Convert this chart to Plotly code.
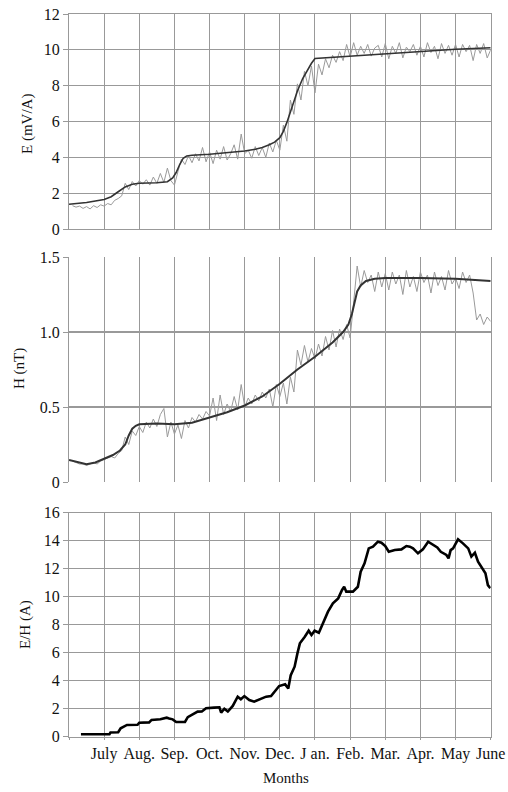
import plotly.graph_objects as go

# x positions: months since start (gridline k = k-th month boundary)
month_labels = ["", "July", "Aug.", "Sep.", "Oct.", "Nov.", "Dec.", "J an.",
                "Feb.", "Mar.", "Apr.", "May", "June"]
month_ticks = list(range(0, 13))

# sampled positions of the raw (noisy) series, every 0.1 month
raw_x = [round(0.1 * i, 1) for i in range(1, 121)]

# ---- E (mV/A) ----
E_raw = [
    1.30, 1.22, 1.28, 1.15, 1.25, 1.12, 1.30, 1.20, 1.35, 1.28,
    1.42, 1.35, 1.60, 1.70, 1.85, 2.55, 2.20, 2.65, 2.40, 2.70,
    2.50, 2.75, 2.45, 2.90, 2.55, 3.10, 2.60, 3.40, 2.70, 2.45,
    3.20, 3.90, 3.60, 4.10, 3.70, 4.20, 3.80, 4.55, 3.75, 4.30,
    3.65, 4.40, 3.90, 4.60, 3.85, 4.20, 4.70, 3.90, 5.30, 4.20,
    4.40, 3.95, 4.60, 4.10, 4.55, 4.00, 4.80, 4.30, 4.95, 4.40,
    5.80, 4.90, 7.20, 6.40, 8.10, 7.20, 8.80, 8.00, 9.10, 7.60,
    9.20, 8.60, 9.50, 9.00, 9.70, 9.30, 9.90, 9.40, 10.30, 9.60,
    10.40, 9.70, 10.20, 9.80, 10.30, 9.65, 10.10, 10.25, 9.60, 10.35,
    9.50, 10.20, 9.80, 10.40, 9.55, 10.15, 9.90, 10.30, 9.70, 10.20,
    9.60, 10.40, 9.85, 10.20, 9.50, 10.35, 9.80, 10.25, 9.70, 10.30,
    9.60, 10.30, 9.90, 10.25, 9.40, 10.30, 9.80, 10.35, 9.55, 10.00,
]
E_fit_x = [0, 0.5, 1.0, 1.2, 1.4, 1.6, 1.8, 2.0, 2.5, 2.8, 2.95, 3.05, 3.15, 3.25,
           3.35, 3.5, 4.0, 4.5, 5.0, 5.3, 5.5, 5.7, 5.85, 6.0, 6.1, 6.2, 6.35, 6.5,
           6.65, 6.8, 6.9, 7.0, 8, 9, 10, 11, 12]
E_fit = [1.38, 1.48, 1.65, 1.80, 2.08, 2.35, 2.50, 2.55, 2.58, 2.64, 2.85, 3.15,
         3.60, 3.95, 4.08, 4.12, 4.17, 4.25, 4.35, 4.45, 4.55, 4.70, 4.85, 5.10,
         5.45, 5.95, 6.85, 7.70, 8.40, 8.95, 9.25, 9.52, 9.65, 9.80, 9.93, 10.03, 10.12]

# ---- H (nT) ----
H_raw = [
    0.14, 0.13, 0.12, 0.12, 0.11, 0.12, 0.13, 0.12, 0.14, 0.15,
    0.16, 0.17, 0.16, 0.19, 0.21, 0.30, 0.25, 0.34, 0.31, 0.37,
    0.33, 0.40, 0.36, 0.42, 0.37, 0.45, 0.49, 0.30, 0.40, 0.32,
    0.38, 0.29, 0.41, 0.36, 0.43, 0.40, 0.45, 0.42, 0.47, 0.44,
    0.56, 0.41, 0.58, 0.45, 0.52, 0.47, 0.57, 0.48, 0.65, 0.50,
    0.56, 0.52, 0.58, 0.54, 0.60, 0.56, 0.62, 0.50, 0.65, 0.57,
    0.66, 0.52, 0.70, 0.60, 0.88, 0.78, 0.91, 0.80, 0.89, 0.82,
    0.92, 0.84, 0.97, 0.88, 1.01, 0.90, 1.02, 0.95, 1.05, 0.96,
    1.20, 1.44, 1.30, 1.41, 1.33, 1.38, 1.27, 1.40, 1.30, 1.39,
    1.28, 1.40, 1.32, 1.38, 1.25, 1.41, 1.30, 1.37, 1.27, 1.40,
    1.33, 1.38, 1.26, 1.40, 1.31, 1.37, 1.28, 1.41, 1.32, 1.36,
    1.29, 1.40, 1.33, 1.38, 1.26, 1.08, 1.12, 1.05, 1.10, 1.07,
]
H_fit_x = [0, 0.25, 0.5, 0.75, 1.0, 1.25, 1.45, 1.6, 1.7, 1.8, 1.9, 2.0, 2.5, 3.0,
           3.5, 4.0, 4.5, 5.0, 5.5, 6.0, 6.5, 7.0, 7.5, 7.8, 7.95, 8.05, 8.12, 8.2,
           8.3, 8.45, 8.7, 9, 10, 11, 12]
H_fit = [0.147, 0.13, 0.118, 0.13, 0.155, 0.18, 0.21, 0.25, 0.31, 0.355, 0.375,
         0.385, 0.39, 0.385, 0.395, 0.43, 0.465, 0.51, 0.57, 0.655, 0.75, 0.835,
         0.93, 1.00, 1.05, 1.12, 1.20, 1.27, 1.31, 1.34, 1.355, 1.36, 1.36, 1.355, 1.34]

# ---- E/H (A) ----
EH_x = [0.34, 1.15, 1.18, 1.40, 1.47, 1.58, 1.65, 1.95, 2.00, 2.28, 2.35, 2.60,
        2.78, 2.85, 2.95, 3.05, 3.30, 3.38, 3.52, 3.66, 3.78, 3.90, 4.13, 4.28,
        4.33, 4.42, 4.52, 4.66, 4.80, 4.89, 4.99, 5.13, 5.27, 5.46, 5.61, 5.75,
        5.89, 5.98, 6.15, 6.24, 6.31, 6.42, 6.50, 6.57, 6.71, 6.82, 6.90, 6.99,
        7.11, 7.23, 7.37, 7.51, 7.66, 7.77, 7.83, 7.89, 8.08, 8.22, 8.30, 8.41,
        8.53, 8.65, 8.79, 8.89, 9.00, 9.10, 9.27, 9.46, 9.60, 9.70, 9.79, 9.93,
        10.07, 10.22, 10.36, 10.48, 10.58, 10.74, 10.80, 10.86, 10.93, 11.07,
        11.21, 11.36, 11.45, 11.55, 11.64, 11.75, 11.85, 11.92, 11.99]
EH = [0.17, 0.17, 0.30, 0.32, 0.60, 0.75, 0.84, 0.85, 1.00, 1.02, 1.20, 1.25,
      1.36, 1.30, 1.24, 1.05, 1.05, 1.40, 1.58, 1.79, 1.80, 2.03, 2.08, 2.10,
      1.72, 2.00, 1.80, 2.20, 2.86, 2.67, 2.90, 2.62, 2.50, 2.67, 2.86, 2.90,
      3.33, 3.62, 3.74, 3.45, 4.40, 5.00, 5.95, 6.67, 7.14, 7.57, 7.26, 7.57,
      7.43, 8.10, 8.93, 9.52, 9.88, 10.48, 10.71, 10.36, 10.36, 10.71, 11.79, 12.38,
      13.45, 13.57, 13.93, 13.86, 13.62, 13.21, 13.33, 13.38, 13.62, 13.57, 13.45, 13.10,
      13.38, 13.93, 13.69, 13.52, 13.21, 12.98, 12.74, 13.33, 13.45, 14.10,
      13.81, 13.45, 12.86, 13.14, 12.50, 12.02, 11.67, 10.83, 10.60]

E_ticks = [0, 2, 4, 6, 8, 10, 12]
H_ticks = [0, 0.5, 1.0, 1.5]
H_ticktext = ["0", "0.5", "1.0", "1.5"]
EH_ticks = [0, 2, 4, 6, 8, 10, 12, 14, 16]

FONT = "Liberation Serif, Times New Roman, serif"
GRID = "#999999"
RAW_C = "#9a9a9a"
FIT_C = "#333333"

W, H = 508, 792


def fx(px):
    return px / W


def fy(py):
    return 1 - py / H


fig = go.Figure()
fig.add_trace(go.Scatter(x=raw_x, y=E_raw, mode="lines", line=dict(color=RAW_C, width=1),
                         xaxis="x", yaxis="y", hoverinfo="skip"))
fig.add_trace(go.Scatter(x=E_fit_x, y=E_fit, mode="lines",
                         line=dict(color=FIT_C, width=1.6),
                         xaxis="x", yaxis="y"))
fig.add_trace(go.Scatter(x=raw_x, y=H_raw, mode="lines", line=dict(color=RAW_C, width=1),
                         xaxis="x2", yaxis="y2", hoverinfo="skip"))
fig.add_trace(go.Scatter(x=H_fit_x, y=H_fit, mode="lines",
                         line=dict(color=FIT_C, width=2),
                         xaxis="x2", yaxis="y2"))
fig.add_trace(go.Scatter(x=EH_x, y=EH, mode="lines", line=dict(color="#000000", width=2.6),
                         xaxis="x3", yaxis="y3"))

xdom = [fx(69), fx(490.7)]
common_x = dict(range=[0, 12], domain=xdom, tickvals=month_ticks, showgrid=True,
                gridcolor=GRID, gridwidth=1, zeroline=False,
                linecolor=GRID, linewidth=1,
                fixedrange=True, automargin=False)
common_y = dict(showgrid=True, gridcolor=GRID, ticks="outside", fixedrange=True,
                ticklen=5, tickcolor=GRID, tickwidth=1, automargin=False,
                tickfont=dict(family=FONT, size=16, color="#111"),
                showline=True, mirror=True, linecolor=GRID, linewidth=1)

tfont = dict(family=FONT, size=15, color="#111")
fig.update_layout(
    width=W, height=H,
    autosize=False,
    margin=dict(l=0, r=0, t=0, b=0, pad=0),
    paper_bgcolor="white", plot_bgcolor="white",
    showlegend=False,
    hovermode=False,
    font=dict(family=FONT, size=16, color="#111"),
    xaxis=dict(**common_x, anchor="y", showticklabels=False, showline=True, mirror=True),
    xaxis2=dict(**common_x, anchor="y2", showticklabels=False, showline=False),
    xaxis3=dict(**common_x, anchor="y3", ticktext=month_labels, ticks="outside",
                ticklen=2, tickcolor=GRID, showline=True, mirror=True,
                tickfont=dict(family=FONT, size=16, color="#111")),
    yaxis=dict(**common_y, domain=[fy(229), fy(14)], range=[0, 12], gridwidth=1,
               tickvals=E_ticks, zeroline=False, anchor="x"),
    yaxis2=dict(**common_y, domain=[fy(482), fy(257)], range=[0, 1.5], gridwidth=2,
                tickvals=H_ticks, ticktext=H_ticktext, zeroline=True,
                zerolinecolor="rgba(0,0,0,0)", anchor="x2"),
    yaxis3=dict(**common_y, domain=[fy(736.7), fy(512.7)], range=[0, 16], gridwidth=1,
                tickvals=EH_ticks, zeroline=False, anchor="x3"),
    annotations=[
        dict(text="E (mV/A)", x=fx(27), y=fy(124), xref="paper", yref="paper",
             xanchor="center", yanchor="middle", textangle=-90, showarrow=False, font=tfont),
        dict(text="H (nT)", x=fx(20), y=fy(369), xref="paper", yref="paper",
             xanchor="center", yanchor="middle", textangle=-90, showarrow=False, font=tfont),
        dict(text="E/H (A)", x=fx(25), y=fy(625), xref="paper", yref="paper",
             xanchor="center", yanchor="middle", textangle=-90, showarrow=False, font=tfont),
        dict(text="Months", x=fx(286), y=fy(778), xref="paper", yref="paper",
             xanchor="center", yanchor="middle", showarrow=False, font=tfont),
    ],
)

fig.write_html(
    "out.html",
    config={"displayModeBar": False, "staticPlot": True},
    post_script="document.body.style.margin='0';document.body.style.overflow='hidden';",
)
